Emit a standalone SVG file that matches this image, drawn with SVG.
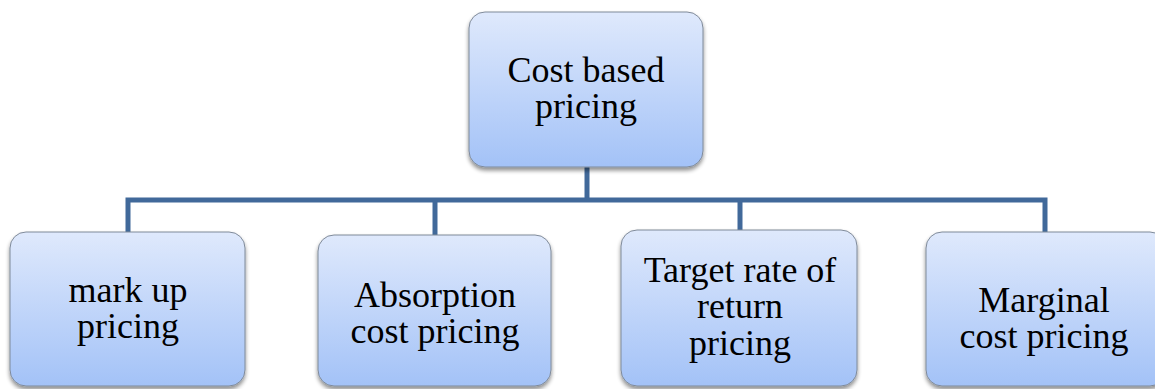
<svg xmlns="http://www.w3.org/2000/svg" width="1155" height="389" viewBox="0 0 1155 389">
<defs>
<linearGradient id="g" x1="0" y1="0" x2="0" y2="1">
<stop offset="0" stop-color="#dfe9fc"/>
<stop offset="1" stop-color="#a3c2f7"/>
</linearGradient>
<filter id="sh" x="-10%" y="-10%" width="120%" height="125%">
<feGaussianBlur in="SourceAlpha" stdDeviation="2"/>
<feOffset dx="0" dy="3" result="b"/>
<feComponentTransfer><feFuncA type="linear" slope="0.45"/></feComponentTransfer>
<feMerge><feMergeNode/><feMergeNode in="SourceGraphic"/></feMerge>
</filter>
</defs>
<style>
.box{fill:url(#g);stroke:#7f8a99;stroke-width:1;filter:url(#sh)}
.t{font-family:"Liberation Serif",serif;font-size:36px;fill:#000;text-anchor:middle}
.c{fill:none;stroke:#41699a;stroke-width:5}
</style>
<g id="connectors">
<path class="c" d="M587 167 V200"/>
<path class="c" d="M128 232 V200 H1045 V232"/>
<path class="c" d="M435 200 V235"/>
<path class="c" d="M740 200 V230"/>
</g>
<g id="n0">
<rect class="box" x="469" y="12" width="234" height="155" rx="16"/>
<text class="t" x="586" y="82">Cost based</text>
<text class="t" x="586" y="118">pricing</text>
</g>
<g id="n1">
<rect class="box" x="10" y="232" width="235" height="154" rx="16"/>
<text class="t" x="128" y="302">mark up</text>
<text class="t" x="128" y="338">pricing</text>
</g>
<g id="n2">
<rect class="box" x="318" y="235" width="233" height="151" rx="16"/>
<text class="t" x="435" y="307">Absorption</text>
<text class="t" x="435" y="343">cost pricing</text>
</g>
<g id="n3">
<rect class="box" x="621" y="230" width="236" height="156" rx="16"/>
<text class="t" x="740" y="282">Target rate of</text>
<text class="t" x="740" y="318">return</text>
<text class="t" x="740" y="355">pricing</text>
</g>
<g id="n4">
<rect class="box" x="926" y="232" width="240" height="154" rx="16"/>
<text class="t" x="1044" y="312">Marginal</text>
<text class="t" x="1044" y="348">cost pricing</text>
</g>
</svg>
